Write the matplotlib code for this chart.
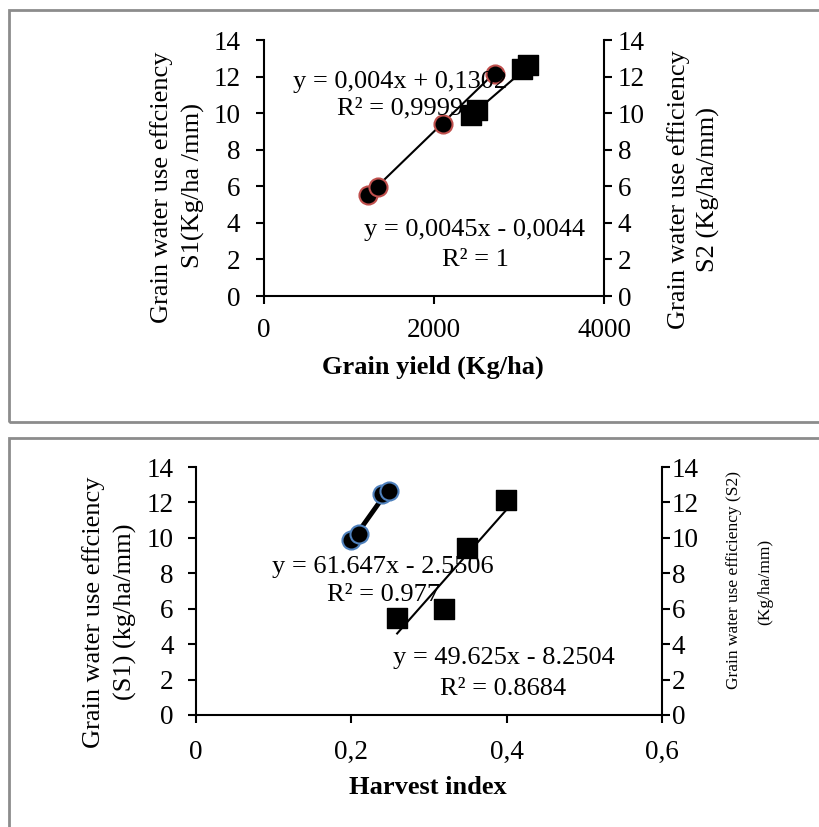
import numpy as np
import matplotlib
matplotlib.use("Agg")
import matplotlib.pyplot as plt
from matplotlib.patches import Rectangle

plt.rcParams['font.family'] = ['Liberation Serif', 'DejaVu Serif']

# top panel: grain yield vs WUE
yield_s1 = [1224, 1341, 2106, 2718]
wue_s1 = [5.5, 5.96, 9.4, 12.13]
yield_s2 = [2430, 2510, 3040, 3100]
wue_s2 = [9.9, 10.15, 12.4, 12.65]
fit_top_s1 = (0.0045, -0.0044)
fit_top_s2 = (0.004, 0.1302)

# bottom panel: harvest index vs WUE
hi_s1 = [0.200, 0.210, 0.240, 0.249]
wue_hi_s1 = [9.9, 10.2, 12.5, 12.65]
hi_s2 = [0.259, 0.319, 0.349, 0.399]
wue_hi_s2 = [5.5, 5.96, 9.44, 12.14]
fit_bot_s1 = (61.647, -2.5506)
fit_bot_s2 = (49.625, -8.2504)

W, H = 819, 827
fig = plt.figure(figsize=(W / 100, H / 100), dpi=100)


def px(x, y):
    return x / W, 1 - y / H


# grey frames around the two charts
for (x0, y0, x1, y1) in [(8.5, 10, 830, 421.5), (8.5, 438, 830, 840)]:
    fig.patches.append(Rectangle(px(x0, y1), (x1 - x0) / W, (y1 - y0) / H,
                                 transform=fig.transFigure, fill=False,
                                 edgecolor="#8c8c8c", linewidth=2, clip_on=False))


def style(ax, ypad, xpad):
    ax.spines["top"].set_visible(False)
    for s in ax.spines.values():
        s.set_linewidth(1.5)
    ax.tick_params(axis="both", labelsize=19.5, length=6, width=1.5, direction="out")
    ax.tick_params(axis="y", pad=ypad)
    ax.tick_params(axis="x", pad=xpad)


def panel(rect, xs1, ys1, xs2, ys2, f1, f2, xlim, xticks, xticklabels,
          edge, lw1, texts, pads):
    ax = fig.add_axes(rect)
    ax2 = ax.twinx()
    ax.set_xlim(*xlim)
    ax.set_ylim(0, 14)
    ax2.set_ylim(0, 14)
    ax.set_xticks(xticks)
    ax.set_xticklabels(xticklabels)
    ax.set_yticks(range(0, 15, 2))
    ax2.set_yticks(range(0, 15, 2))
    style(ax, pads[0], pads[2])
    style(ax2, pads[1], pads[2])
    ax2.spines["left"].set_visible(False)
    ax2.spines["bottom"].set_visible(False)
    ax.spines["right"].set_visible(False)

    x1 = np.array([min(xs1), max(xs1)])
    x2 = np.array([min(xs2), max(xs2)])
    ax.plot(x1, f1[0] * x1 + f1[1], color="black", lw=lw1, zorder=2)
    ax.scatter(xs1, ys1, s=13 ** 2, color="black", edgecolor=edge,
               linewidth=1.5, zorder=4)
    ax2.plot(x2, f2[0] * x2 + f2[1], color="black", lw=1.5, zorder=2)
    ax2.scatter(xs2, ys2, s=15 ** 2, marker="s", color="black", zorder=4)
    for (tx, ty, s) in texts:
        ax2.text(tx, ty, s, fontsize=19, ha="center", va="center", zorder=1)
    return ax, ax2


panel([264 / W, 1 - 296 / H, 340 / W, 256 / H],
      yield_s1, wue_s1, yield_s2, wue_s2, fit_top_s1, fit_top_s2,
      (0, 4000), [0, 2000, 4000], ["0", "2000", "4000"], "#c0504d", 1.5,
      [(1600, 11.7, "y = 0,004x + 0,1302"), (1600, 10.28, "R² = 0,9999"),
       (2482, 3.61, "y = 0,0045x - 0,0044"), (2482, 1.97, "R² = 1")],
      (11, 4, 10))

panel([196 / W, 1 - 715 / H, 466 / W, 248 / H],
      hi_s1, wue_hi_s1, hi_s2, wue_hi_s2, fit_bot_s1, fit_bot_s2,
      (0, 0.6), [0, 0.2, 0.4, 0.6], ["0", "0,2", "0,4", "0,6"], "#4f81bd", 3.5,
      [(0.241, 8.36, "y = 61.647x - 2.5506"), (0.241, 6.78, "R² = 0.977"),
       (0.396, 3.22, "y = 49.625x - 8.2504"), (0.396, 1.47, "R² = 0.8684")],
      (10, 1, 12))

# axis titles
def vlabel(x, y, s, size=19):
    fig.text(*px(x, y), s, rotation=90, ha="center", va="center", fontsize=size)


vlabel(162, 187, "Grain water use effciency")
vlabel(193, 186, "S1(Kg/ha /mm)")
vlabel(679, 190, "Grain water use efficiency")
vlabel(708, 190, "S2 (Kg/ha/mm)")
vlabel(94, 612, "Grain water use effciency")
vlabel(125, 612, "(S1) (kg/ha/mm)")
vlabel(734, 580, "Grain water use efficiency (S2)", 12.5)
vlabel(765, 582, "(Kg/ha/mm)", 12.5)

fig.text(*px(433, 367), "Grain yield (Kg/ha)", ha="center", va="center",
         fontsize=19, fontweight="bold")
fig.text(*px(428, 787), "Harvest index", ha="center", va="center",
         fontsize=19, fontweight="bold")

fig.savefig("out.png", dpi=100)
